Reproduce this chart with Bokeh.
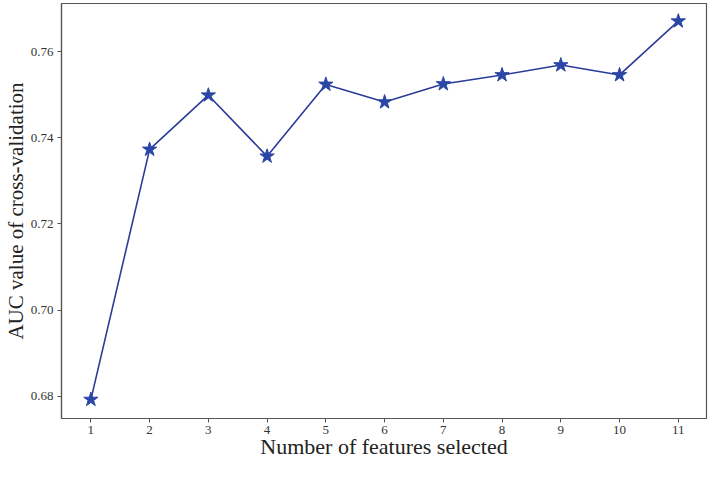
from bokeh.plotting import figure
from bokeh.models import Range1d, FixedTicker, PrintfTickFormatter
from bokeh.embed import file_html
from bokeh.resources import INLINE

features = [1, 2, 3, 4, 5, 6, 7, 8, 9, 10, 11]
auc = [0.6792, 0.7373, 0.7499, 0.7357, 0.7524, 0.7483, 0.7525, 0.7546, 0.7569, 0.7546, 0.7671]
x_ticks = features
y_ticks = [0.68, 0.70, 0.72, 0.74, 0.76]
x_title = "Number of features selected"
y_title = "AUC value of cross-validation"

p = figure(width=710, height=461, output_backend="svg", toolbar_location=None,
           x_range=Range1d(0.5, 11.48), y_range=Range1d(0.6748, 0.7712),
           min_border_left=61, min_border_right=4, min_border_top=3, min_border_bottom=43)

p.line(features, auc, line_color="#2b3c98", line_width=1.6)
p.scatter(features, auc, marker="star", size=15, fill_color="#2a47a6", line_color="#2a47a6")

p.grid.visible = False
p.outline_line_color = "#555555"
p.outline_line_width = 1.2

for ax in (p.xaxis[0], p.yaxis[0]):
    ax.axis_line_color = "#555555"
    ax.axis_line_width = 1.2
    ax.major_tick_line_color = "#555555"
    ax.major_tick_out = 4
    ax.major_tick_in = 0
    ax.minor_tick_line_color = None
    ax.major_label_text_font = "Liberation Serif"
    ax.major_label_text_font_size = "13px"
    ax.major_label_text_color = "#333333"
    ax.axis_label_text_font = "Liberation Serif"
    ax.axis_label_text_font_style = "normal"
    ax.axis_label_text_color = "#222222"

p.xaxis.ticker = FixedTicker(ticks=x_ticks)
p.yaxis.ticker = FixedTicker(ticks=y_ticks)
p.yaxis.formatter = PrintfTickFormatter(format="%.2f")

p.xaxis.axis_label = x_title
p.xaxis.axis_label_text_font_size = "22px"
p.xaxis.axis_label_standoff = -3
p.xaxis.major_label_standoff = 3
p.yaxis.axis_label = y_title
p.yaxis.axis_label_text_font_size = "21px"
p.yaxis.axis_label_standoff = 0
p.yaxis.major_label_standoff = 4

open("out.html", "w").write(file_html(p, INLINE))
